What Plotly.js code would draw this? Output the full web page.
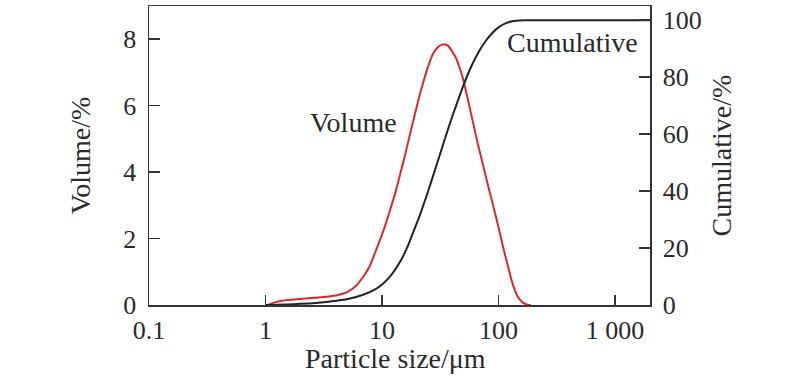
<!DOCTYPE html>
<html>
<head>
<meta charset="utf-8">
<script src="https://cdn.plot.ly/plotly-3.0.1.min.js"></script>
<style>
html,body{margin:0;padding:0;background:#fff;}
#chart{width:800px;height:388px;}
</style>
</head>
<body>
<div id="chart"></div>
<script>
// Particle size (µm) and volume fraction (%)
const volumeSize = [1.05, 1.2, 1.4, 2, 2.7, 3.6, 4.6, 5.2, 6, 6.9, 7.8, 8.9, 10.2, 11.6, 13.2, 14.6, 16, 17.3, 20.3, 22.4, 25, 27.3, 30, 32.5, 34.4, 37, 40.6, 43.4, 46, 49.3, 54.4, 60, 66, 73.3, 80, 89.2, 100, 108.7, 120, 132, 145, 161, 178, 190];
const volumeValues = [0, 0.08, 0.13, 0.18, 0.22, 0.26, 0.34, 0.42, 0.58, 0.85, 1.15, 1.65, 2.2, 2.8, 3.45, 4.05, 4.6, 5.1, 6.1, 6.65, 7.2, 7.55, 7.75, 7.83, 7.85, 7.8, 7.6, 7.42, 7.18, 6.85, 6.22, 5.55, 4.9, 4.25, 3.7, 3.05, 2.35, 1.8, 1.2, 0.65, 0.28, 0.08, 0.01, 0];

// Particle size (µm) and cumulative fraction (%)
const cumulativeSize = [1.0, 1.5, 2, 2.7, 3.6, 5.2, 6.9, 8.5, 10.2, 12, 14.6, 16.5, 18.4, 21, 24, 27.3, 31.2, 35.6, 40.6, 44.7, 49.3, 58, 68.5, 78, 89, 100, 116, 135, 151, 170, 2000];
const cumulativeValues = [0, 0.2, 0.4, 0.7, 1.2, 2.2, 3.6, 5.2, 7.5, 10.5, 15.8, 20.3, 25.2, 31.2, 38.0, 45.0, 52.4, 59.8, 66.8, 71.6, 76.4, 83.5, 89.3, 92.8, 95.6, 97.5, 99.0, 99.7, 99.95, 100, 100];

const xTickVals = [0.1, 1, 10, 100, 1000];
const xTickText = ['0.1', '1', '10', '100', '1 000'];
const yLeftTicks = [0, 2, 4, 6, 8];
const yRightTicks = [0, 20, 40, 60, 80, 100];

const serif = 'Liberation Serif, Times New Roman, serif';
const axisColor = '#333333';
const textColor = '#2a2a2a';

const traces = [
  {
    x: volumeSize, y: volumeValues, type: 'scatter', mode: 'lines',
    line: {color: '#e0272d', width: 2, shape: 'spline', smoothing: 0.6},
    name: 'Volume', yaxis: 'y', showlegend: false, hoverinfo: 'x+y'
  },
  {
    x: cumulativeSize, y: cumulativeValues, type: 'scatter', mode: 'lines',
    line: {color: '#222222', width: 2, shape: 'spline', smoothing: 0.6},
    name: 'Cumulative', yaxis: 'y2', showlegend: false, hoverinfo: 'x+y'
  }
];

const layout = {
  width: 800, height: 388,
  margin: {l: 149, r: 150, t: 6, b: 83},
  paper_bgcolor: '#ffffff', plot_bgcolor: '#ffffff',
  font: {family: serif, color: textColor, size: 26},
  showlegend: false,
  xaxis: {
    type: 'log', range: [-1, Math.log10(2000)],
    tickvals: xTickVals, ticktext: xTickText,
    ticks: 'inside', ticklen: 10, tickwidth: 1.5, tickcolor: axisColor,
    showline: true, linecolor: axisColor, linewidth: 1.5, mirror: true,
    showgrid: false, zeroline: false, ticklabelstandoff: 1,
    tickfont: {family: serif, size: 26, color: textColor}
  },
  yaxis: {
    range: [0, 9],
    tickvals: yLeftTicks,
    ticks: 'inside', ticklen: 11, tickwidth: 1.5, tickcolor: axisColor,
    showline: true, linecolor: axisColor, linewidth: 1.5,
    showgrid: false, zeroline: false, ticklabelstandoff: 6,
    tickfont: {family: serif, size: 26, color: textColor},
    title: {text: 'Volume/%', font: {family: serif, size: 28, color: textColor}, standoff: 24}
  },
  yaxis2: {
    range: [0, 105], overlaying: 'y', side: 'right',
    tickvals: yRightTicks,
    ticks: 'inside', ticklen: 11, tickwidth: 1.5, tickcolor: axisColor,
    showline: true, linecolor: axisColor, linewidth: 1.5,
    showgrid: false, zeroline: false, ticklabelstandoff: 6,
    tickfont: {family: serif, size: 26, color: textColor},
    title: {text: 'Cumulative/%', font: {family: serif, size: 28, color: textColor}, standoff: 10}
  },
  annotations: [
    {x: Math.log10(5.7), y: 5.5, xref: 'x', yref: 'y', text: 'Volume', showarrow: false,
     font: {family: serif, size: 28, color: textColor}},
    {x: Math.log10(430), y: 7.91, xref: 'x', yref: 'y', text: 'Cumulative', showarrow: false,
     font: {family: serif, size: 28, color: textColor}},
    {x: 0.493, y: -0.178, xref: 'paper', yref: 'paper', xanchor: 'center', yanchor: 'middle',
     text: 'Particle size/μm', showarrow: false,
     font: {family: serif, size: 28, color: textColor}}
  ]
};

Plotly.newPlot('chart', traces, layout, {displayModeBar: false, staticPlot: true});
</script>
</body>
</html>
